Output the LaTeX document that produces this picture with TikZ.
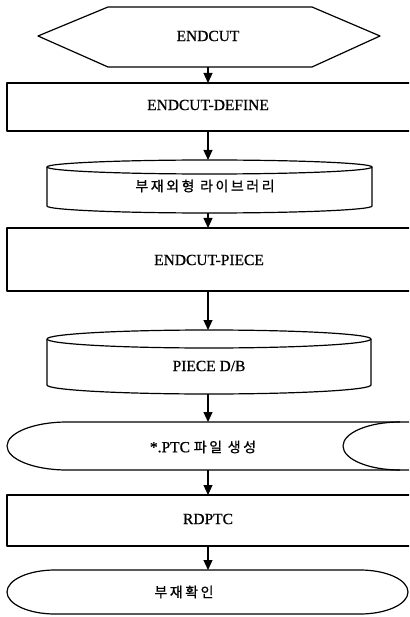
\documentclass[tikz,border=0pt]{standalone}
\usepackage{fontspec}
\setmainfont[FakeBold=0.8]{Liberation Serif}
\newfontfamily\kr[LetterSpace=18,FakeBold=0.8]{Noto Sans CJK KR}
\usetikzlibrary{arrows.meta}
\begin{document}
\begin{tikzpicture}[x=1pt,y=1pt,
  shp/.style={line width=1.2pt,line join=round},
  arr/.style={line width=1.2pt,-{Triangle[length=10pt,width=9pt]}},
  lab/.style={font=\fontsize{15.5}{18}\selectfont,inner sep=0pt},
  klab/.style={font=\fontsize{14}{17}\selectfont\kr,inner sep=0pt}]
\useasboundingbox (0,0) rectangle (409,-617);
\clip (0,0) rectangle (409,-617);
\fill[white] (0,0) rectangle (409,-617);
% hexagon
\draw[shp] (38,-36) -- (108,-7) -- (312,-7) -- (380,-36) -- (312,-67) -- (108,-67) -- cycle;
\node[lab] (endcut) at (208,-36) {ENDCUT};
\coordinate (hexS) at (208,-67);
% rect 1
\draw[shp] (7,-83) rectangle (415,-131);
\node[lab] (define) at (208,-105) {ENDCUT-DEFINE};
\coordinate (defN) at (208,-83);
\coordinate (defS) at (208,-131);
% cylinder 1
\draw[shp] (209.5,-167) ellipse[x radius=162.5pt,y radius=7pt];
\draw[shp] (47,-167) -- (47,-206) arc[start angle=180,end angle=360,x radius=162.5pt,y radius=7pt] -- (372,-167);
\node[klab] (lib) at (205,-186) {부재외형 라이브러리};
\coordinate (libN) at (208,-160);
\coordinate (libS) at (208,-213);
% rect 2
\draw[shp] (7,-228) rectangle (415,-291);
\node[lab] (piece) at (209,-260) {ENDCUT-PIECE};
\coordinate (pieceN) at (208,-228);
\coordinate (pieceS) at (208,-291);
% cylinder 2
\draw[shp] (209,-339) ellipse[x radius=162pt,y radius=9pt];
\draw[shp] (47,-339) -- (47,-385) arc[start angle=180,end angle=360,x radius=162pt,y radius=9pt] -- (371,-339);
\node[lab] (db) at (209,-366) {PIECE D/B};
\coordinate (dbN) at (208,-330);
\coordinate (dbS) at (208,-394);
% stored data
\draw[shp] (415,-422) -- (67,-422) arc[start angle=90,end angle=270,x radius=60pt,y radius=24pt] -- (415,-470);
\draw[shp] (400,-422) arc[start angle=90,end angle=270,x radius=57pt,y radius=24pt];
\node[inner sep=0pt] (ptc) at (203,-447) {\fontsize{15.5}{18}\selectfont *.PTC {\fontsize{14}{17}\selectfont\kr 파일 생성}};
\coordinate (ptcN) at (208,-422);
\coordinate (ptcS) at (208,-470);
% rect 3
\draw[shp] (7,-495) rectangle (415,-546);
\node[lab] (rdptc) at (208,-519) {RDPTC};
\coordinate (rdN) at (208,-495);
\coordinate (rdS) at (208,-546);
% terminator
\draw[shp] (55,-570) -- (360,-570) arc[start angle=90,end angle=-90,x radius=48pt,y radius=22pt] -- (55,-614) arc[start angle=270,end angle=90,x radius=48pt,y radius=22pt];
\node[klab] (check) at (184,-592) {부재확인};
\coordinate (chkN) at (208,-570);
% arrows
\draw[arr] (hexS) -- (defN);
\draw[arr] (defS) -- (libN);
\draw[arr] (libS) -- (pieceN);
\draw[arr] (pieceS) -- (dbN);
\draw[arr] (dbS) -- (ptcN);
\draw[arr] (ptcS) -- (rdN);
\draw[arr] (rdS) -- (chkN);
\end{tikzpicture}
\end{document}
